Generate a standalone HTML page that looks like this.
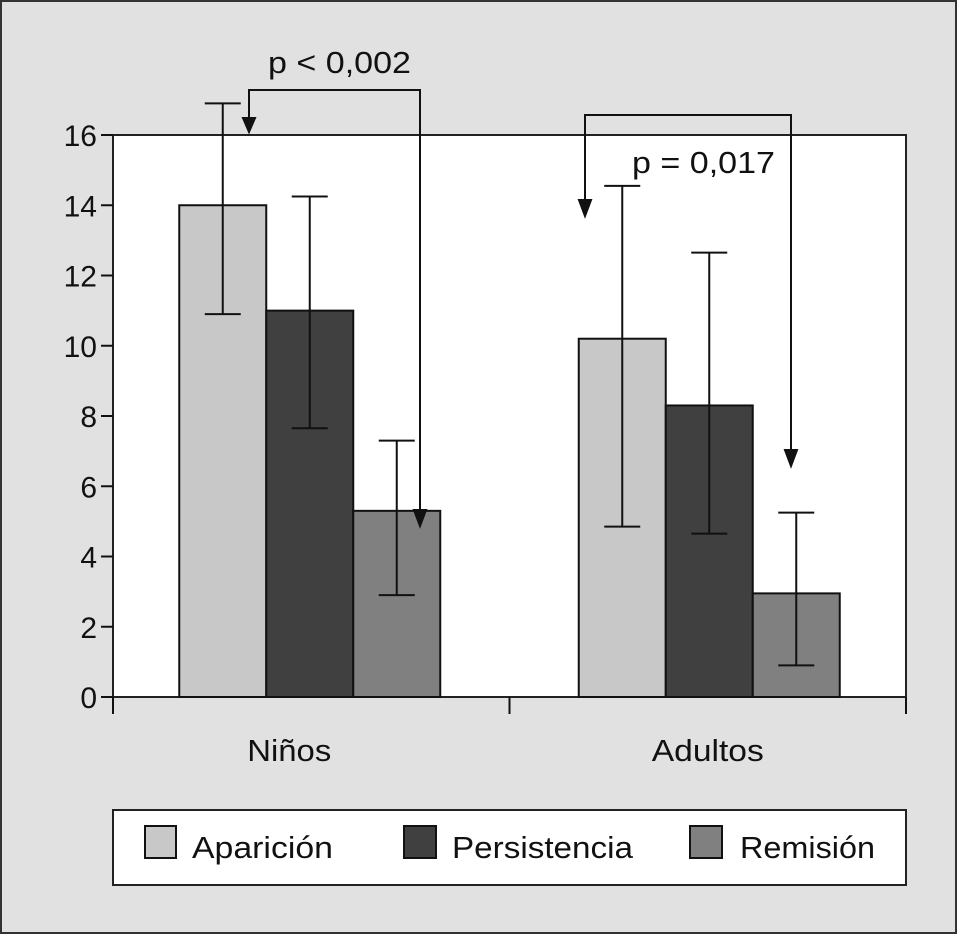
<!DOCTYPE html>
<html><head><meta charset="utf-8"><style>
html,body{margin:0;padding:0;background:#e1e1e1;}
svg{display:block;font-family:"Liberation Sans",sans-serif;}
</style></head><body>
<svg id="chart" width="957" height="934" viewBox="0 0 957 934">
<rect x="1" y="1" width="955" height="932" fill="#e1e1e1" stroke="#333" stroke-width="2"/>
<rect x="113" y="135" width="793" height="562" fill="#fff" stroke="#222" stroke-width="2"/>
<g id="bars"></g>
<g id="axes"></g>
<g fill="none" stroke="#111" stroke-width="2">
<polyline points="249,128 249,90 420,90 420,522"/>
<path d="M243,118 L249,132 L255,118 Z" fill="#111"/>
<path d="M414,510 L420,526 L426,510 Z" fill="#111"/>
</g>
<text x="268" y="73" font-size="31" textLength="143" lengthAdjust="spacingAndGlyphs" fill="#111">p &lt; 0,002</text>
<g fill="none" stroke="#111" stroke-width="2">
<polyline points="585,212 585,115 791,115 791,462"/>
<path d="M579,200 L585,216 L591,200 Z" fill="#111"/>
<path d="M785,450 L791,466 L797,450 Z" fill="#111"/>
</g>
<text x="632" y="173" font-size="31" textLength="143" lengthAdjust="spacingAndGlyphs" fill="#111">p = 0,017</text>
<rect x="113" y="810" width="793" height="75" fill="#fff" stroke="#222" stroke-width="2"/>
<g>
<rect x="145" y="826" width="31" height="32" fill="#c8c8c8" stroke="#111" stroke-width="2"/>
<text x="192" y="858" font-size="31" textLength="141" lengthAdjust="spacingAndGlyphs" fill="#111">Aparición</text></g>
<g>
<rect x="404" y="826" width="32" height="32" fill="#404040" stroke="#111" stroke-width="2"/>
<text x="452" y="858" font-size="31" textLength="181" lengthAdjust="spacingAndGlyphs" fill="#111">Persistencia</text></g>
<g>
<rect x="690" y="826" width="32" height="32" fill="#808080" stroke="#111" stroke-width="2"/>
<text x="740" y="858" font-size="31" textLength="135" lengthAdjust="spacingAndGlyphs" fill="#111">Remisión</text></g>
</svg>
<script>
const categories=["Niños","Adultos"];
const seriesNames=["Aparición","Persistencia","Remisión"];
const aparicion=[14,10.2];
const persistencia=[11,8.3];
const remision=[5.3,2.95];
const errLow=[[10.9,4.85],[7.65,4.65],[2.9,0.9]];
const errHigh=[[16.9,14.55],[14.25,12.65],[7.3,5.25]];
const yTicks=[0,2,4,6,8,10,12,14,16];
const NS="http://www.w3.org/2000/svg";
const X0=113,X1=906,Y0=697,Y1=135;
function y(v){return Y0-(v/16)*(Y0-Y1);}
const groupW=(X1-X0)/categories.length;
function groupCenter(i){return X0+groupW*(i+0.5);}
const barW=87;
const colors=["#c8c8c8","#404040","#808080"];
const series=[aparicion,persistencia,remision];
function mk(tag,attrs,parent){const e=document.createElementNS(NS,tag);for(const k in attrs)e.setAttribute(k,attrs[k]);parent.appendChild(e);return e;}
const bars=document.getElementById('bars'),axes=document.getElementById('axes');
series.forEach((s,si)=>{s.forEach((v,ci)=>{
 const cx=groupCenter(ci)+(si-1)*barW-(ci===0?1.5:-1.5);
 const r=mk('rect',{x:cx-barW/2,y:y(v),width:barW,height:Y0-y(v),fill:colors[si],stroke:'#111','stroke-width':2},bars);
 
 
 const g=mk('g',{stroke:'#111','stroke-width':2},bars);
 
 
 mk('line',{x1:cx,x2:cx,y1:y(errLow[si][ci]),y2:y(errHigh[si][ci])},g);
 mk('line',{x1:cx-18,x2:cx+18,y1:y(errLow[si][ci]),y2:y(errLow[si][ci])},g);
 mk('line',{x1:cx-18,x2:cx+18,y1:y(errHigh[si][ci]),y2:y(errHigh[si][ci])},g);
});});
yTicks.forEach(t=>{
 const l=mk('line',{x1:X0-12,x2:X0,y1:y(t),y2:y(t),stroke:'#111','stroke-width':2},axes);
 
 
 const tx=mk('text',{x:X0-16,y:y(t)+11,'font-size':30,'text-anchor':'end',fill:'#111'},axes);
 tx.textContent=t;
 
 
});
for(let i=0;i<=categories.length;i++){
 const l=mk('line',{x1:X0+groupW*i,x2:X0+groupW*i,y1:Y0,y2:Y0+17,stroke:'#111','stroke-width':2},axes);
 
 
}
const labelW=[84,112];
categories.forEach((c,i)=>{
 const tx=mk('text',{x:groupCenter(i)-22+(i*22),y:761,'font-size':31,'text-anchor':'middle',textLength:labelW[i],lengthAdjust:'spacingAndGlyphs',fill:'#111'},axes);
 tx.textContent=c;
 
 
});
</script>
</body></html>
